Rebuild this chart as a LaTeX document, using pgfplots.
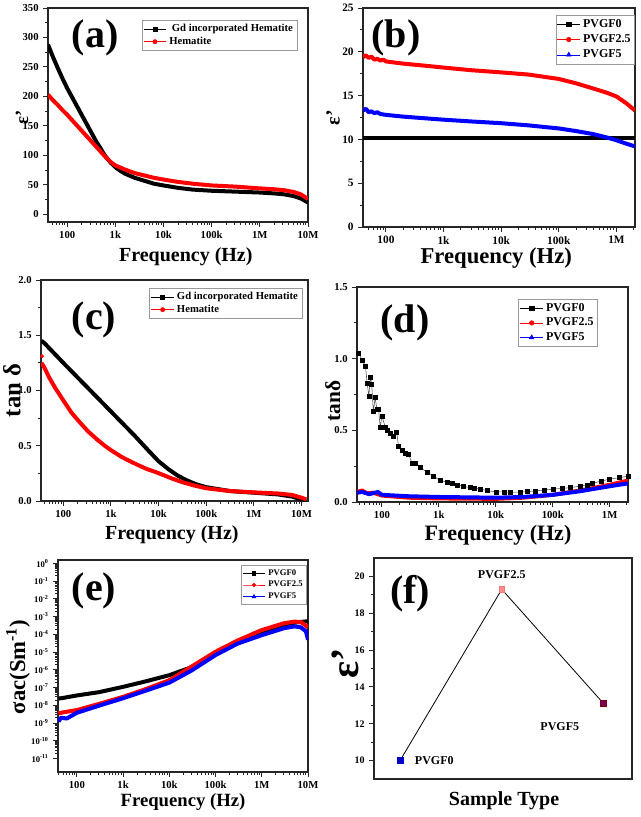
\documentclass[border=0pt]{standalone}
\usepackage{fontspec}
\setmainfont{Liberation Serif}
\usepackage{pgfplots}
\pgfplotsset{compat=1.18}

\newcommand\panelfont{\bfseries\fontsize{30}{30}\selectfont}
\definecolor{purp}{RGB}{120,0,90}

\pgfplotsset{
  /pgfplots/panel/.style={scale only axis, anchor=north west,
    axis line style={line width=0.9pt, black!85},
    tick style={black!85, line width=0.7pt},
    tick align=outside, tick pos=left,
    major tick length=3.5pt, minor tick length=2.2pt,
    /pgf/number format/assume math mode=true,
    tick label style={font=\bfseries\fontsize{8}{9}\selectfont},
    label style={font=\bfseries\fontsize{15}{17}\selectfont},
    legend cell align=left,
    extra x tick style={major tick length=2.2pt, xticklabel={}},
    legend style={draw=gray!80, line width=0.4pt,
      font=\bfseries\fontsize{8}{9}\selectfont, inner sep=1pt, row sep=-1.5pt}},
}
\tikzset{band/.style={line width=3pt, line join=round}}

\begin{document}
\begin{tikzpicture}

% (a) dielectric constant, hematite
\begin{axis}[panel, xmode=log, at={(36pt,-6pt)}, width=195pt, height=160.5pt,
  xmin=40, xmax=1e7, ymin=-13, ymax=350,
  xtick={100,1000,10000,100000,1000000,10000000},
  xticklabels={100,1k,10k,100k,1M,10M},
  extra x ticks={50,60,70,80,90,200,300,400,500,600,700,800,900,2000,3000,4000,5000,6000,7000,8000,9000,2e4,3e4,4e4,5e4,6e4,7e4,8e4,9e4,2e5,3e5,4e5,5e5,6e5,7e5,8e5,9e5,2e6,3e6,4e6,5e6,6e6,7e6,8e6,9e6},
  ytick={0,50,...,350}, minor y tick num=1,
  xlabel={Frequency (Hz)}, ylabel={ε'},
  xlabel style={at={(axis description cs:0.53,-0.185)}, anchor=base},
  ylabel style={at={(axis description cs:-0.1,0.49)}, anchor=center, font=\bfseries\fontsize{14}{16}\selectfont},
  legend style={at={(0.958,0.944)}, anchor=north east}]
\addlegendimage{black, mark=square*, mark size=1.5pt, thin}
\addlegendentry{\ Gd incorporated Hematite}
\addlegendimage{red, mark=*, mark size=1.6pt, thin}
\addlegendentry{Hematite}
\addplot[black, band, forget plot] coordinates {
(40,288)(50.1,268)(63.1,249)(79.4,231)(100,214)(125.9,199)(158.5,184)(199.5,169)
(251.2,154)(316.2,139)(398.1,124)(501.2,111)(562,104)(631,98)(794.3,88)(1000,80)
(1259,74)(1585,69)(2512,62)(3981,57)(6310,52)(1e4,49)(19950,45)(39810,42)(1e5,40)
(316200,38.5)(1e6,37)(1.995e6,35.5)(3.162e6,34)(5.012e6,31)(7.079e6,27)(1e7,20)};
\addplot[red, band, forget plot] coordinates {
(40,203)(50.1,194)(63.1,186)(79.4,177)(100,169)(125.9,160)(158.5,151)(199.5,142)
(251.2,133)(316.2,124)(398.1,115)(501.2,106)(631,97)(794.3,89)(1000,83)
(1585,76)(2512,70)(3981,66)(6310,62)(1e4,59)(19950,55)(39810,52)(1e5,49)
(316200,47)(1e6,44)(1.995e6,42.5)(3.162e6,41)(5.012e6,38)(7.079e6,34)(1e7,26)};
\end{axis}

% (b) dielectric constant, PVGF films
\begin{axis}[panel, xmode=log, at={(272.25pt,-6pt)}, width=204pt, height=164.25pt,
  xmin=40, xmax=2.1e6, ymin=0, ymax=25,
  xtick={100,1000,10000,100000,1000000},
  xticklabels={100,1k,10k,100k,1M},
  extra x ticks={50,60,70,80,90,200,300,400,500,600,700,800,900,2000,3000,4000,5000,6000,7000,8000,9000,2e4,3e4,4e4,5e4,6e4,7e4,8e4,9e4,2e5,3e5,4e5,5e5,6e5,7e5,8e5,9e5,2e6},
  ytick={0,5,...,25}, minor y tick num=1,
  tick label style={font=\bfseries\fontsize{8.5}{9}\selectfont},
  xlabel={Frequency (Hz)}, ylabel={ε'},
  label style={font=\bfseries\fontsize{17}{19}\selectfont},
  xlabel style={at={(axis description cs:0.49,-0.165)}, anchor=base},
  ylabel style={at={(axis description cs:-0.11,0.50)}, anchor=center, font=\bfseries\fontsize{15}{17}\selectfont},
  legend style={at={(1,0.968)}, anchor=north east, font=\bfseries\fontsize{9}{10}\selectfont, row sep=0pt}]
\addlegendimage{black, mark=square*, mark size=1.6pt, thin}
\addlegendentry{PVGF0}
\addlegendimage{red, mark=*, mark size=1.7pt, thin}
\addlegendentry{PVGF2.5}
\addlegendimage{blue, mark=triangle*, mark size=2pt, thin}
\addlegendentry{PVGF5}
\addplot[black, band, forget plot] coordinates {(40,10.2)(1000,10.2)(1e5,10.2)(2.1e6,10.2)};
\addplot[red, band, forget plot] coordinates {
(40,19.4)(45,19.6)(50,19.3)(56,19.45)(63,19.1)(71,19.2)(80,19.0)(90,19.1)(100,18.9)(200,18.65)
(500,18.4)(1000,18.2)(3000,17.9)(1e4,17.65)(3e4,17.4)(1e5,16.9)(2e5,16.4)
(4e5,15.8)(7e5,15.3)(1e6,14.9)(1.5e6,14.1)(2.1e6,13.3)};
\addplot[blue, band, forget plot] coordinates {
(40,13.3)(45,13.5)(50,13.1)(56,13.2)(63,13.0)(71,13.1)(80,12.9)(100,12.8)(200,12.6)
(500,12.4)(1000,12.25)(3000,12.05)(1e4,11.85)(3e4,11.6)(1e5,11.25)(2e5,10.95)
(4e5,10.6)(7e5,10.2)(1e6,9.9)(1.5e6,9.5)(2.1e6,9.2)};
\end{axis}

% (c) loss tangent, hematite
\begin{axis}[panel, xmode=log, at={(30.75pt,-210pt)}, width=200.25pt, height=165.75pt,
  xmin=34, xmax=1.37e7, ymin=0, ymax=2,
  xtick={100,1000,10000,100000,1000000,10000000},
  xticklabels={100,1k,10k,100k,1M,10M},
  extra x ticks={40,50,60,70,80,90,200,300,400,500,600,700,800,900,2000,3000,4000,5000,6000,7000,8000,9000,2e4,3e4,4e4,5e4,6e4,7e4,8e4,9e4,2e5,3e5,4e5,5e5,6e5,7e5,8e5,9e5,2e6,3e6,4e6,5e6,6e6,7e6,8e6,9e6},
  ytick={0,0.5,...,2}, minor y tick num=1,
  yticklabel style={/pgf/number format/.cd, fixed, fixed zerofill, precision=1},
  xlabel={Frequency (Hz)}, ylabel={tan~δ},
  xlabel style={at={(axis description cs:0.49,-0.176)}, anchor=base},
  ylabel style={at={(axis description cs:-0.109,0.50)}, anchor=center, font=\bfseries\fontsize{18.5}{20}\selectfont},
  legend style={at={(0.978,0.964)}, anchor=north east}]
\addlegendimage{black, mark=square*, mark size=1.5pt, thin}
\addlegendentry{Gd incorporated Hematite}
\addlegendimage{red, mark=*, mark size=1.6pt, thin}
\addlegendentry{Hematite}
\addplot[black, band, forget plot] coordinates {
(34.7,1.45)(39.8,1.43)(100,1.25)(316.2,1.03)(1000,0.81)(3162,0.59)(6310,0.45)(1e4,0.36)
(15850,0.29)(25120,0.23)(39810,0.185)(63100,0.15)(1e5,0.125)(316200,0.09)
(1e6,0.075)(3.162e6,0.06)(6.31e6,0.04)(1e7,0.015)(1.259e7,0.005)};
\addplot[red, band, forget plot] coordinates {
(34.7,1.25)(39.8,1.21)(50.1,1.12)(66.1,1.03)(100,0.91)(147.9,0.80)(223.9,0.71)
(331.1,0.63)(501.2,0.56)(741.3,0.50)(1000,0.46)(1660,0.40)(2512,0.36)(3715,0.325)
(5623,0.29)(8318,0.265)(12590,0.235)(18620,0.205)(31620,0.17)(56230,0.14)
(1e5,0.115)(316200,0.09)(1e6,0.078)(3.162e6,0.068)(6.31e6,0.055)(1e7,0.03)(1.259e7,0.015)};
\addplot[red, only marks, mark=*, mark size=1.3pt, forget plot] coordinates {(35.5,1.31)};
\end{axis}

% (d) loss tangent, PVGF films
\begin{axis}[panel, xmode=log, at={(267.75pt,-215.25pt)}, width=203.25pt, height=161.25pt,
  xmin=36.5, xmax=2.1e6, ymin=0, ymax=1.5,
  xtick={100,1000,10000,100000,1000000},
  xticklabels={100,1k,10k,100k,1M},
  extra x ticks={40,50,60,70,80,90,200,300,400,500,600,700,800,900,2000,3000,4000,5000,6000,7000,8000,9000,2e4,3e4,4e4,5e4,6e4,7e4,8e4,9e4,2e5,3e5,4e5,5e5,6e5,7e5,8e5,9e5,2e6},
  ytick={0,0.5,...,1.5}, minor y tick num=1,
  yticklabel style={/pgf/number format/.cd, fixed, fixed zerofill, precision=1},
  xlabel={Frequency (Hz)}, ylabel={tanδ},
  label style={font=\bfseries\fontsize{16.5}{18}\selectfont},
  xlabel style={at={(axis description cs:0.52,-0.178)}, anchor=base},
  ylabel style={at={(axis description cs:-0.089,0.47)}, anchor=center, font=\bfseries\fontsize{16}{18}\selectfont},
  legend style={at={(0.889,0.944)}, anchor=north east, font=\bfseries\fontsize{9}{10}\selectfont, row sep=-0.5pt}]
\addlegendimage{black, mark=square*, mark size=1.6pt, thin}
\addlegendentry{PVGF0}
\addlegendimage{red, mark=*, mark size=1.7pt, thin}
\addlegendentry{PVGF2.5}
\addlegendimage{blue, mark=triangle*, mark size=2pt, thin}
\addlegendentry{PVGF5}
\addplot[red, band, forget plot] coordinates {
(36.5,0.07)(45,0.08)(55,0.06)(70,0.065)(100,0.045)(300,0.03)(1000,0.025)(1e4,0.022)
(3e4,0.03)(1e5,0.05)(3e5,0.08)(1e6,0.12)(2.1e6,0.15)};
\addplot[blue, band, forget plot] coordinates {
(36.5,0.065)(45,0.07)(60,0.055)(85,0.07)(100,0.05)(300,0.04)(1000,0.035)(1e4,0.03)
(3e4,0.035)(1e5,0.05)(3e5,0.075)(1e6,0.11)(2.1e6,0.13)};
\addplot[black!70, thin, mark=square*, mark size=1.5pt, mark options={black}, forget plot] coordinates {
(38.9,1.04)(44.7,0.99)(51.3,0.95)(55,0.83)(58.9,0.74)(63.1,0.87)(66.1,0.82)(70.8,0.63)
(75.9,0.73)(81.3,0.65)(87.1,0.65)(93.3,0.52)(100,0.60)(115,0.52)(123,0.50)(141,0.48)
(158,0.46)(182,0.49)(195,0.39)(224,0.36)(257,0.34)(295,0.33)(339,0.27)(380,0.27)
(468,0.24)(617,0.21)(813,0.18)(1047,0.15)(1380,0.14)(1700,0.13)(2100,0.12)(2692,0.11)
(3500,0.10)(4200,0.095)(5370,0.09)(7000,0.08)(1e4,0.07)(14000,0.07)(18000,0.068)
(26900,0.07)(35000,0.072)(50000,0.078)(70000,0.083)(1.02e5,0.09)(1.5e5,0.095)
(2e5,0.10)(3e5,0.11)(3.98e5,0.12)(5e5,0.13)(7e5,0.145)(1e6,0.16)(1.5e6,0.17)(2.1e6,0.18)};
\end{axis}

% (e) ac conductivity
\begin{axis}[panel, xmode=log, ymode=log, at={(43.5pt,-420pt)}, width=187.5pt, height=159pt,
  xmin=39, xmax=1e7, ymin=1.74e-12, ymax=1.55,
  xtick={100,1000,10000,100000,1000000,10000000},
  xticklabels={100,1k,10k,100k,1M,10M},
  extra x ticks={40,50,60,70,80,90,200,300,400,500,600,700,800,900,2000,3000,4000,5000,6000,7000,8000,9000,2e4,3e4,4e4,5e4,6e4,7e4,8e4,9e4,2e5,3e5,4e5,5e5,6e5,7e5,8e5,9e5,2e6,3e6,4e6,5e6,6e6,7e6,8e6,9e6},
  ytick={1e-11,1e-10,1e-9,1e-8,1e-7,1e-6,1e-5,1e-4,1e-3,1e-2,1e-1,1},
  yticklabels={10\textsuperscript{-11},10\textsuperscript{-10},10\textsuperscript{-9},10\textsuperscript{-8},10\textsuperscript{-7},10\textsuperscript{-6},10\textsuperscript{-5},10\textsuperscript{-4},10\textsuperscript{-3},10\textsuperscript{-2},10\textsuperscript{-1},10\textsuperscript{0}},
  minor ytick={},
  yticklabel style={font=\bfseries\fontsize{6.5}{7}\selectfont},
  xlabel={Frequency (Hz)}, ylabel={σac(Sm\textsuperscript{-1})},
  label style={font=\bfseries\fontsize{14}{16}\selectfont},
  xlabel style={at={(axis description cs:0.50,-0.162)}, anchor=base},
  ylabel style={at={(axis description cs:-0.16,0.495)}, anchor=center, font=\bfseries\fontsize{17}{19}\selectfont},
  legend style={at={(0.996,0.976)}, anchor=north east, font=\bfseries\fontsize{6.5}{7}\selectfont, row sep=-1pt}]
\addlegendimage{black, mark=square*, mark size=1.3pt, thin}
\addlegendentry{PVGF0}
\addlegendimage{red, mark=*, mark size=1.4pt, thin}
\addlegendentry{PVGF2.5}
\addlegendimage{blue, mark=triangle*, mark size=1.7pt, thin}
\addlegendentry{PVGF5}
\addplot[black, band, forget plot] coordinates {
(40,2.4e-8)(50,2.6e-8)(100,3.6e-8)(300,5.5e-8)(1000,1.1e-7)(3000,2.2e-7)(1e4,5e-7)
(3e4,1.4e-6)(1e5,9e-6)(3e5,3.5e-5)(1e6,1.3e-4)(3e6,3.5e-4)(5e6,4.5e-4)(7e6,5e-4)(1e7,5.5e-4)};
\addplot[red, band, forget plot] coordinates {
(40,3.5e-9)(50,4e-9)(100,5.4e-9)(300,1.2e-8)(1000,3e-8)(3000,8e-8)(1e4,2.6e-7)
(3e4,1.5e-6)(1e5,1.05e-5)(3e5,4.5e-5)(1e6,1.75e-4)(3e6,4.2e-4)(5e6,5.2e-4)(7e6,5e-4)(1e7,2.5e-4)};
\addplot[blue, band, forget plot] coordinates {
(40,1.2e-9)(45,2e-9)(60,1.8e-9)(100,3.8e-9)(300,9.5e-9)(1000,2.5e-8)(3000,6.5e-8)
(1e4,1.9e-7)(3e4,9e-7)(1e5,6.8e-6)(3e5,3e-5)(1e6,9e-5)(3e6,2.2e-4)(5e6,2.8e-4)
(7e6,2.5e-4)(9e6,1.5e-4)(1e7,5e-5)};
\end{axis}

% (f) dielectric constant by sample
\begin{axis}[panel, at={(280.5pt,-418.5pt)}, width=193.5pt, height=165.75pt,
  xmin=-0.256, xmax=2.28, ymin=9, ymax=21,
  xtick=\empty, ytick={10,12,...,20}, minor y tick num=1,
  tick label style={font=\bfseries\fontsize{7.5}{9}\selectfont},
  xlabel={Sample Type}, ylabel={ε'},
  xlabel style={at={(axis description cs:0.504,-0.118)}, anchor=base},
  ylabel style={at={(axis description cs:-0.112,0.525)}, anchor=center, font=\bfseries\fontsize{30}{32}\selectfont}]
\addplot[black, line width=0.6pt] coordinates {(0,10.0)(1,19.3)(2,13.1)};
\addplot[only marks, mark=square*, mark size=2.2pt, blue!80!black] coordinates {(0,10.0)};
\addplot[only marks, mark=square*, mark size=2.2pt, fill=red!45, draw=red!55] coordinates {(1,19.3)};
\addplot[only marks, mark=square*, mark size=2.2pt, fill=purp, draw=red!50!black] coordinates {(2,13.1)};
\node[font=\bfseries\fontsize{9}{10}\selectfont] at (axis cs:1,20.1) {PVGF2.5};
\node[font=\bfseries\fontsize{9}{10}\selectfont, anchor=west] at (axis cs:0.1,10.0) {PVGF0};
\node[font=\bfseries\fontsize{9}{10}\selectfont] at (axis cs:1.57,11.83) {PVGF5};
\end{axis}

% panel letters
\node[font=\panelfont] at (71.25pt,-28.1pt) {(a)};
\node[font=\panelfont] at (297pt,-28.5pt) {(b)};
\node[font=\panelfont] at (70.5pt,-240pt) {(c)};
\node[font=\panelfont] at (303.75pt,-242.25pt) {(d)};
\node[font=\panelfont] at (70.5pt,-443.25pt) {(e)};
\node[font=\panelfont] at (307.5pt,-445.5pt) {(f)};

\pgfresetboundingbox
\path (0,0) rectangle (480pt,-612.75pt);
\end{tikzpicture}
\end{document}
